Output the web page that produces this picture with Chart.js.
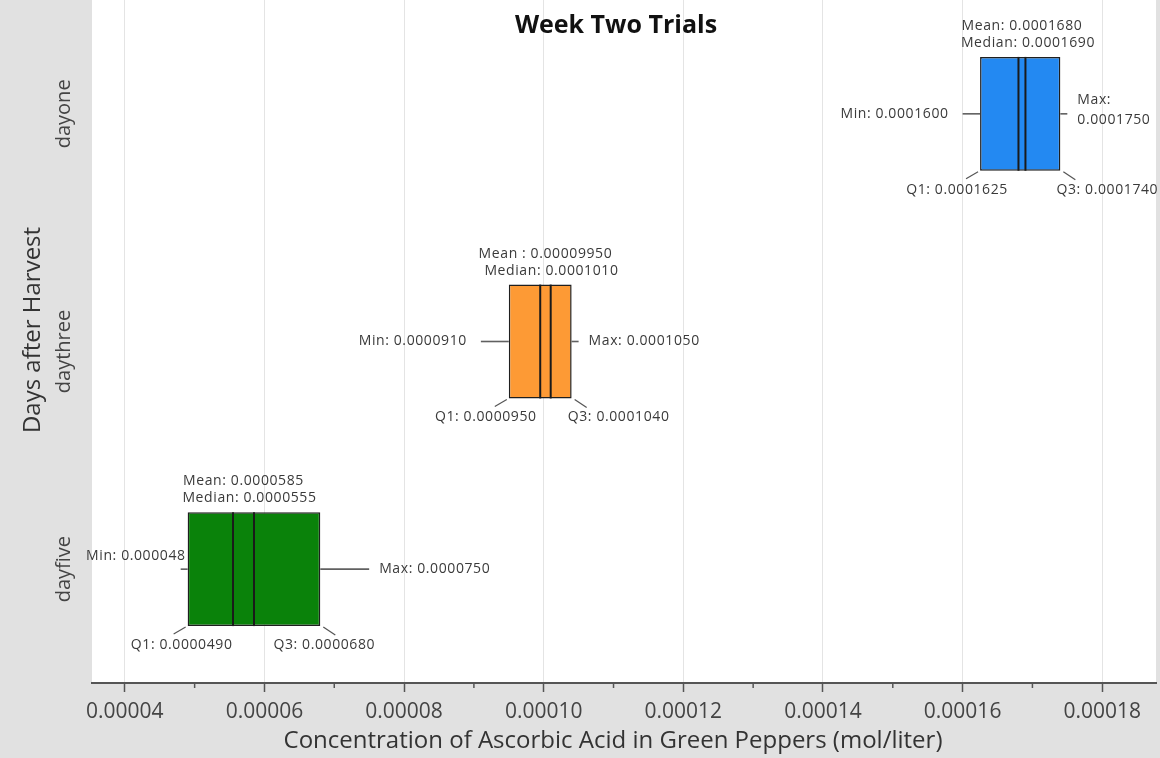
<!DOCTYPE html>
<html>
<head>
<meta charset="utf-8">
<script src="https://cdn.jsdelivr.net/npm/chart.js@4/dist/chart.umd.min.js"></script>
<style>
  body { margin: 0; background: #e1e1e1; }
  canvas { display: block; }
</style>
</head>
<body>
<canvas id="chart" width="1160" height="758"></canvas>
<script>
// box plot values (mol/liter)
const days = ['dayone', 'daythree', 'dayfive'];
const minVals = [0.00016, 0.000091, 0.000048];
const q1Vals = [0.0001625, 0.000095, 0.000049];
const medianVals = [0.000169, 0.000101, 0.0000555];
const meanVals = [0.000168, 0.0000995, 0.0000585];
const q3Vals = [0.000174, 0.000104, 0.000068];
const maxVals = [0.000175, 0.000105, 0.000075];

// annotation texts as printed on the chart
const minLabels = ['Min: 0.0001600', 'Min: 0.0000910', 'Min: 0.000048'];
const q1Labels = ['Q1: 0.0001625', 'Q1: 0.0000950', 'Q1: 0.0000490'];
const medianLabels = ['Median: 0.0001690', 'Median: 0.0001010', 'Median: 0.0000555'];
const meanLabels = ['Mean: 0.0001680', 'Mean : 0.00009950', 'Mean: 0.0000585'];
const q3Labels = ['Q3: 0.0001740', 'Q3: 0.0001040', 'Q3: 0.0000680'];
const maxLabels = ['Max: 0.0001750', 'Max: 0.0001050', 'Max: 0.0000750'];

const boxColors = ['#2389f2', '#fd9a35', '#0a820a'];

const LABEL_FONT = '14px "Open Sans"';
const LABEL_COLOR = '#3a3a3a';

function isMajor(v) {
    return Math.round(v * 1e5) % 2 === 0;
}

function line(ctx, x1, y1, x2, y2) {
    ctx.beginPath();
    ctx.moveTo(x1, y1);
    ctx.lineTo(x2, y2);
    ctx.stroke();
}

const backdrop = {
    id: 'backdrop',
    beforeDraw(chart) {
        const { ctx, chartArea: a } = chart;
        ctx.save();
        ctx.fillStyle = '#e1e1e1';
        ctx.fillRect(0, 0, chart.width, chart.height);
        ctx.fillStyle = '#ffffff';
        ctx.fillRect(a.left, a.top, a.right - a.left, a.bottom - a.top);
        ctx.restore();
    }
};

const whiskers = {
    id: 'whiskers',
    beforeDatasetsDraw(chart) {
        const { ctx, scales: { x, y } } = chart;
        ctx.save();
        ctx.strokeStyle = '#606060';
        ctx.lineWidth = 1.6;
        days.forEach((d, i) => {
            const cy = y.getPixelForValue(i);
            line(ctx, x.getPixelForValue(minVals[i]), cy, x.getPixelForValue(q1Vals[i]), cy);
            line(ctx, x.getPixelForValue(q3Vals[i]), cy, x.getPixelForValue(maxVals[i]), cy);
        });
        ctx.restore();
    }
};

const annotations = {
    id: 'annotations',
    afterDatasetsDraw(chart) {
        const { ctx, chartArea: a, scales: { x, y } } = chart;
        const meta = chart.getDatasetMeta(0);
        ctx.save();

        // median and mean lines inside the boxes
        ctx.strokeStyle = '#1a1a1a';
        ctx.lineWidth = 2;
        days.forEach((d, i) => {
            const bar = meta.data[i];
            const top = bar.y - bar.height / 2;
            const bottom = bar.y + bar.height / 2;
            [medianVals[i], meanVals[i]].forEach(v => {
                const px = x.getPixelForValue(v);
                line(ctx, px, top, px, bottom);
            });
        });

        ctx.font = LABEL_FONT;
        ctx.letterSpacing = '0.6px';
        ctx.fillStyle = LABEL_COLOR;
        ctx.textBaseline = 'middle';
        days.forEach((d, i) => {
            const bar = meta.data[i];
            const cy = bar.y;
            const top = cy - bar.height / 2;
            const bottom = cy + bar.height / 2;
            const minX = x.getPixelForValue(minVals[i]);
            const q1X = x.getPixelForValue(q1Vals[i]);
            const q3X = x.getPixelForValue(q3Vals[i]);
            const maxX = x.getPixelForValue(maxVals[i]);
            const midX = (x.getPixelForValue(medianVals[i]) + x.getPixelForValue(meanVals[i])) / 2;

            ctx.textAlign = 'center';
            ctx.fillText(meanLabels[i], midX, top - 31);
            ctx.fillText(medianLabels[i], midX + 6, top - 14);

            // min
            ctx.textAlign = 'right';
            if (q1X - minX < 15) {
                ctx.fillText(minLabels[i], q1X - 2, cy - 13);
            } else {
                ctx.fillText(minLabels[i], minX - 14, cy);
            }

            // max, wrapped when it runs past the plot
            ctx.textAlign = 'left';
            const mx = maxX + 10;
            if (mx + ctx.measureText(maxLabels[i]).width > a.right - 4) {
                const parts = maxLabels[i].split(' ');
                ctx.fillText(parts[0], mx, cy - 14);
                ctx.fillText(parts.slice(1).join(' '), mx, cy + 6);
            } else {
                ctx.fillText(maxLabels[i], mx, cy);
            }

            // quartiles below the box
            const wide = q3X - q1X > 100;
            ctx.textAlign = 'center';
            ctx.fillText(q1Labels[i], wide ? q1X - 6 : q1X - 23, bottom + 19);
            ctx.fillText(q3Labels[i], wide ? q3X + 4 : q3X + 47, bottom + 19);
            ctx.strokeStyle = '#555';
            ctx.lineWidth = 1.2;
            line(ctx, q1X - 2, bottom + 1, q1X - 14, bottom + 8);
            line(ctx, q3X + 3, bottom + 1, q3X + 15, bottom + 9);
        });
        ctx.letterSpacing = '0px';

        // title inside the plot
        ctx.font = 'bold 25px "Open Sans"';
        ctx.fillStyle = '#111';
        ctx.textAlign = 'center';
        ctx.fillText('Week Two Trials', 616, 26);
        ctx.restore();
    }
};

const axisExtras = {
    id: 'axisExtras',
    afterDraw(chart) {
        const { ctx, chartArea: a, scales: { x, y } } = chart;
        ctx.save();
        // minor ticks on the x axis
        ctx.strokeStyle = '#555';
        ctx.lineWidth = 1.5;
        x.ticks.forEach((t, i) => {
            if (!isMajor(t.value)) {
                const px = x.getPixelForTick(i);
                line(ctx, px, a.bottom, px, a.bottom + 5);
            }
        });
        // category labels and titles, drawn by hand
        ctx.fillStyle = '#444';
        ctx.textAlign = 'center';
        ctx.textBaseline = 'middle';
        ctx.font = '20px "Open Sans"';
        days.forEach((d, i) => {
            ctx.save();
            ctx.translate(64, y.getPixelForTick(i) + (i === 1 ? 10 : 0));
            ctx.rotate(-Math.PI / 2);
            ctx.fillText(d, 0, 0);
            ctx.restore();
        });
        ctx.save();
        ctx.font = '24px "Open Sans"';
        ctx.fillStyle = '#333';
        ctx.translate(33, 330);
        ctx.rotate(-Math.PI / 2);
        ctx.fillText('Days after Harvest', 0, 0);
        ctx.restore();
        ctx.fillStyle = '#333';
        ctx.font = '24px "Open Sans"';
        ctx.fillText('Concentration of Ascorbic Acid in Green Peppers (mol/liter)', 613, 741);
        ctx.restore();
    }
};

new Chart(document.getElementById('chart'), {
    type: 'bar',
    data: {
        labels: days,
        datasets: [{
            data: days.map((d, i) => [q1Vals[i], q3Vals[i]]),
            backgroundColor: boxColors,
            borderColor: '#1f1f1f',
            borderWidth: 1.5,
            borderSkipped: false,
            barPercentage: 0.5,
            categoryPercentage: 1
        }]
    },
    options: {
        indexAxis: 'y',
        responsive: false,
        animation: false,
        layout: { padding: { right: 4 } },
        plugins: {
            legend: { display: false },
            tooltip: { enabled: false }
        },
        scales: {
            x: {
                type: 'linear',
                min: 0.0000353,
                max: 0.0001877,
                afterFit(scale) { scale.height = 75; },
                border: { color: '#555', width: 2 },
                grid: {
                    color: c => isMajor(c.tick.value) ? '#e4e4e4' : 'rgba(0,0,0,0)',
                    tickColor: c => isMajor(c.tick.value) ? '#555' : 'rgba(0,0,0,0)',
                    tickLength: 9,
                    tickWidth: 1.5
                },
                ticks: {
                    stepSize: 0.00001,
                    includeBounds: false,
                    autoSkip: false,
                    maxRotation: 0,
                    padding: 7,
                    color: '#444',
                    font: { family: 'Open Sans', size: 21 },
                    callback: v => isMajor(v) ? v.toFixed(5) : ''
                }
            },
            y: {
                type: 'category',
                afterFit(scale) { scale.width = 92; },
                grid: { display: false },
                border: { display: false },
                ticks: { display: false }
            }
        }
    },
    plugins: [backdrop, whiskers, annotations, axisExtras]
});
</script>
</body>
</html>
